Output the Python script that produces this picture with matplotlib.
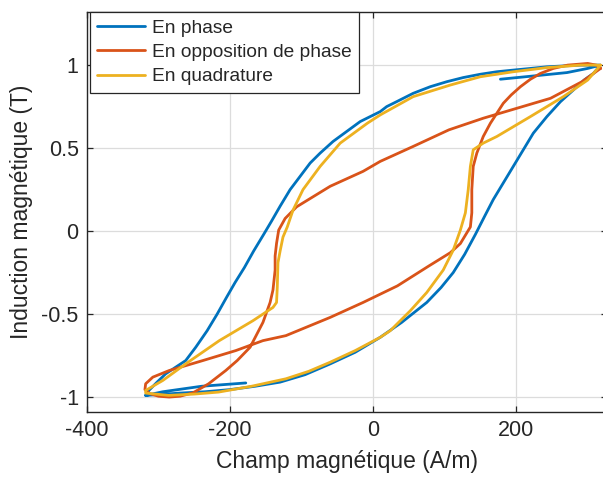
import numpy as np
import matplotlib
matplotlib.use("Agg")
import matplotlib.pyplot as plt

plt.rcParams['font.family'] = ['Liberation Sans', 'DejaVu Sans']

# ---------------- data ----------------
labels = ["En phase", "En opposition de phase", "En quadrature"]
colors = ["#0072BD", "#D95319", "#EDB120"]

# En phase : start segment -> tip -> descending branch -> lower tip -> ascending branch | end segment
H_phase = [178, 225, 271, 300, 318,
           290, 243, 220, 196, 173, 150, 126, 103, 80, 56, 33, 19, 10, -18, -37, -56, -74, -88, -102, -116,
           -130, -142, -153, -167, -180, -193, -205,
           -218, -232, -248, -262, -276, -290, -302, -313, -318,
           -300, -270, -235, -200, -165, -130, -95, -60, -25, 10, 40, 75, 95, 112, 128, 143, 156, 168, 182,
           196, 210, 224, 243, 262, 280, 295, 308, 316,
           np.nan, -318, -294, -240, -178]
B_phase = [0.915, 0.935, 0.955, 0.98, 1.0,
           1.0, 0.99, 0.98, 0.97, 0.96, 0.945, 0.925, 0.90, 0.87, 0.83, 0.78, 0.75, 0.72, 0.66, 0.60, 0.54, 0.47, 0.41, 0.33, 0.25,
           0.15, 0.06, -0.02, -0.12, -0.22, -0.31, -0.40,
           -0.50, -0.60, -0.70, -0.78, -0.82, -0.86, -0.91, -0.958, -0.99,
           -0.985, -0.976, -0.968, -0.955, -0.935, -0.91, -0.865, -0.80, -0.73, -0.64, -0.55, -0.43, -0.34, -0.25, -0.14, -0.02, 0.09, 0.19, 0.29,
           0.39, 0.49, 0.59, 0.69, 0.78, 0.85, 0.91, 0.95, 0.99,
           np.nan, -0.99, -0.968, -0.935, -0.915]

# En opposition de phase
H_opp = [318, 292, 248, 201, 154, 106, 56, 10, -14, -60, -107, -123, -132, -135, -137, -137, -140, -144,
         -154, -160, -172, -190, -206, -230, -252, -270, -285, -300, -312, -319, -318,
         -308, -285, -238, -192, -154, -122, -60, -14, 34, 78, 108, 122, 136,
         138, 138, 140, 145, 154, 164, 182, 193, 206, 220, 234, 252, 272, 300, 312, 318]
B_opp = [0.98, 0.90, 0.80, 0.74, 0.68, 0.61, 0.51, 0.42, 0.36, 0.27, 0.146, 0.076, 0.006, -0.074, -0.15, -0.235, -0.355, -0.43,
         -0.55, -0.60, -0.70, -0.78, -0.84, -0.92, -0.975, -0.995, -1.0, -0.995, -0.98, -0.955, -0.92,
         -0.88, -0.84, -0.78, -0.72, -0.66, -0.63, -0.52, -0.43, -0.33, -0.21, -0.13, -0.075, 0.025,
         0.11, 0.25, 0.39, 0.47, 0.57, 0.65, 0.77, 0.82, 0.87, 0.915, 0.95, 0.98, 1.0, 1.01, 1.0, 0.98]

# En quadrature
H_quad = [318, 290, 243, 196, 150, 108, 56, 10, -8, -46, -74, -98, -112, -120, -126, -130, -133, -134, -135,
          -140, -168, -215, -262, -294, -318, -318,
          -286, -250, -216, -170, -122, -90, -60, -25, 10, 24, 52, 75, 98, 112, 122, 129, 133, 136, 140,
          154, 173, 220, 266, 300, 318]
B_quad = [1.0, 1.0, 0.985, 0.96, 0.93, 0.88, 0.81, 0.70, 0.65, 0.53, 0.39, 0.25, 0.126, 0.025, -0.036, -0.12, -0.19, -0.34, -0.43,
          -0.46, -0.54, -0.66, -0.80, -0.90, -0.96, -0.976,
          -0.99, -0.982, -0.97, -0.935, -0.89, -0.845, -0.79, -0.72, -0.64, -0.60, -0.48, -0.37, -0.235, -0.115, 0.006, 0.11, 0.25, 0.39, 0.49,
          0.53, 0.57, 0.69, 0.81, 0.91, 1.0]

x_ticks = [-400, -200, 0, 200]
y_ticks = [-1, -0.5, 0, 0.5, 1]
y_tick_labels = ["-1", "-0.5", "0", "0.5", "1"]
x_label = "Champ magnétique (A/m)"
y_label = "Induction magnétique (T)"

# ---------------- figure ----------------
W, Hpx = 603, 479
fig = plt.figure(figsize=(W / 100, Hpx / 100), dpi=100)
left_px, right_px, top_px, bot_px = 87, 607, 12, 412
ax = fig.add_axes([left_px / W, 1 - bot_px / Hpx, (right_px - left_px) / W, (bot_px - top_px) / Hpx])

series = [(H_phase, B_phase), (H_opp, B_opp), (H_quad, B_quad)]
for (h, b), lab, c in zip(series, labels, colors):
    ax.plot(h, b, color=c, lw=2.0, label=lab, solid_capstyle='round', solid_joinstyle='round')

ax.set_xlim(-400, 327)
ax.set_ylim(-1.09, 1.32)
ax.set_xticks(x_ticks)
ax.set_xticklabels([str(t) for t in x_ticks])
ax.set_yticks(y_ticks)
ax.set_yticklabels(y_tick_labels)
ax.grid(True, color="#dcdcdc", lw=0.9)
ax.set_axisbelow(True)
ax.tick_params(direction='in', length=4, width=0.9, color="#262626", labelsize=15.5,
               labelcolor="#262626", pad=6, top=True, right=True)
for s in ax.spines.values():
    s.set_color("#262626")
    s.set_linewidth(1.0)

ax.set_xlabel(x_label, fontsize=16.5, color="#262626", labelpad=6)
ax.set_ylabel(y_label, fontsize=16.5, color="#262626", labelpad=6)

leg = ax.legend(loc='upper left', bbox_to_anchor=(3 / (right_px - left_px), 1.0), borderaxespad=0,
                fontsize=13.8, fancybox=False, framealpha=1, edgecolor="#262626",
                handlelength=2.5, handletextpad=0.35, labelspacing=0.36, borderpad=0.38)
leg.get_frame().set_linewidth(0.9)
for t in leg.get_texts():
    t.set_color("#262626")

fig.savefig("out.png", dpi=100)
